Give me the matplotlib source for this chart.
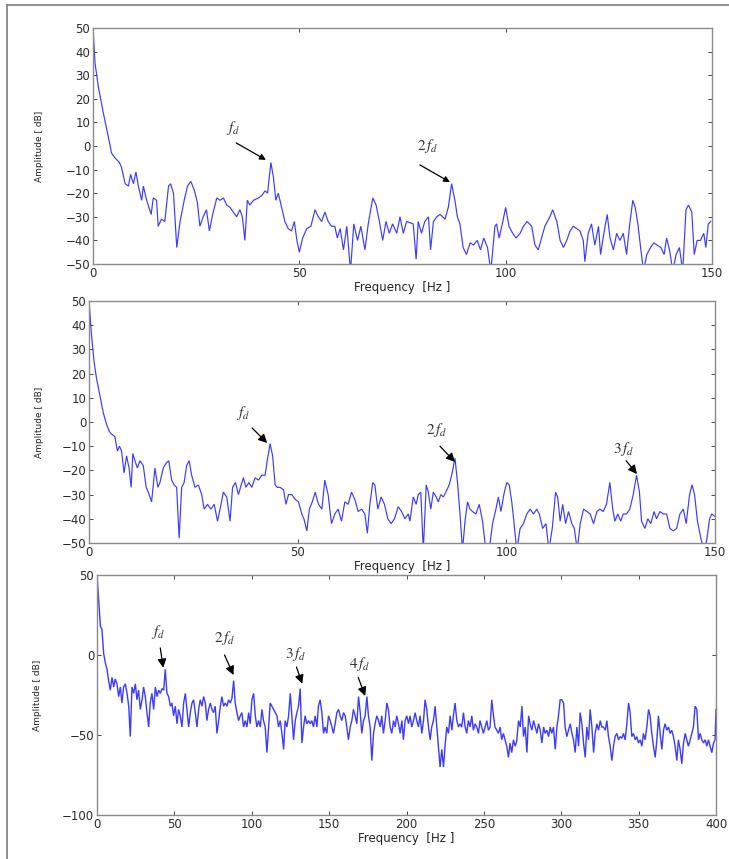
import numpy as np
import matplotlib
matplotlib.use("Agg")
import matplotlib.pyplot as plt
from matplotlib.lines import Line2D

plt.rcParams['font.family'] = ['DejaVu Sans']
plt.rcParams['mathtext.fontset'] = 'stix'

# ---------------- Panel 1 data (0-150 Hz) ----------------
freq1_a = [0, 0.5, 1.3, 2.5, 3.7, 4.5, 5.3, 6.4, 6.9, 7.8,
           8.6, 9.1, 9.8, 10.4, 11.0, 11.8, 12.2, 13.0, 14.1, 14.6,
           15.4, 15.8, 16.6, 17.4, 18.3, 18.8, 19.5, 20.3, 21.1, 22.1,
           22.9, 23.7, 24.6, 25.3, 25.9, 26.7, 27.5, 28.2, 29.0, 30.0,
           30.8, 31.6, 32.4, 33.2, 34.0, 34.8, 35.6, 36.2, 36.8, 37.4,
           38.0, 38.9, 40.1, 40.9, 41.7, 42.3, 43.1, 43.7, 44.3, 44.9,
           45.7, 46.5, 47.3, 48.1, 48.8, 49.4, 50.0, 50.8, 51.8, 52.8,
           53.8, 54.6, 55.4, 56.2, 57.0, 57.8, 58.6, 59.2, 59.9, 60.7,
           61.5, 62.4, 63.2, 64.1, 64.9, 65.9, 66.7, 67.8, 68.6, 69.4,
           70.2, 71.0, 71.8, 72.6, 73.6, 74.4, 75.2, 76.0]
amp1_a = [50, 35, 25, 14, 4, -3, -5, -7, -9, -16,
          -17, -12, -16, -11, -17, -23, -17, -23, -29, -22,
          -23, -34, -31, -32, -17, -16, -20, -43, -32, -23,
          -17, -15, -19, -24, -34, -30, -27, -36, -29, -22,
          -23, -22, -25, -26, -28, -30, -27, -30, -40, -23,
          -25, -23, -22, -21, -19, -20, -7, -13, -23, -20,
          -26, -32, -35, -36, -32, -40, -45, -39, -35, -34,
          -27, -30, -32, -28, -32, -34, -34, -39, -35, -44,
          -34, -53, -33, -40, -34, -44, -33, -22, -25, -32,
          -40, -32, -37, -33, -37, -30, -37, -32]
freq1_b = [77.6, 78.3, 78.8, 79.6, 80.4, 81.3, 81.8, 82.5, 83.3, 84.1,
           85.3, 86.1, 86.9, 87.7, 88.3, 88.9, 89.7, 90.5, 91.4, 92.2,
           93.1, 93.9, 94.7, 95.6, 96.4, 97.4, 97.8, 98.4, 99.2, 100.0,
           100.8, 101.7, 102.5, 103.5, 104.3, 105.2, 106.3, 107.1, 107.9, 108.7,
           109.5, 110.7, 111.4, 112.4, 113.2, 114.0, 114.8, 115.6, 116.4, 117.2,
           118.0, 118.8, 119.2, 120.0, 120.8, 121.6, 122.5, 123.0, 123.8, 124.6,
           125.3, 126.1, 126.9, 127.7, 128.5, 129.3, 130.0, 130.8, 131.4, 132.1,
           132.7, 133.4, 134.2, 135.1, 135.9, 136.7, 137.6, 138.4, 139.0, 139.7,
           140.5, 141.3, 142.1, 142.9, 143.7, 144.3, 145.1, 145.7, 146.4, 147.2,
           148.0, 148.5, 149.1, 149.7]
amp1_b = [-33, -48, -32, -37, -32, -30, -44, -32, -30, -29,
          -31, -26, -16, -23, -30, -33, -43, -46, -41, -42,
          -40, -44, -39, -43, -53, -34, -33, -39, -33, -26,
          -34, -37, -39, -37, -34, -32, -34, -42, -44, -39,
          -34, -30, -27, -32, -40, -43, -40, -36, -34, -35,
          -36, -40, -49, -37, -33, -42, -34, -46, -37, -29,
          -39, -44, -37, -40, -37, -46, -34, -23, -26, -34,
          -43, -53, -46, -43, -41, -42, -43, -46, -39, -44,
          -53, -46, -43, -53, -27, -25, -28, -46, -40, -40,
          -37, -43, -33, -32]

# ---------------- Panel 2 data (0-150 Hz) ----------------
freq2_a = [0, 0.6, 1.2, 1.8, 2.6, 3.4, 4.2, 4.9, 5.4, 6.2,
           6.8, 7.3, 7.8, 8.4, 9.0, 9.6, 10.1, 10.5, 11.0, 11.6,
           12.2, 13.0, 13.7, 14.2, 15.0, 15.8, 16.5, 17.0, 17.8, 18.5,
           19.1, 19.8, 20.4, 21.0, 21.6, 22.2, 22.8, 23.4, 24.0, 24.6,
           25.4, 26.2, 27.0, 27.6, 28.4, 29.2, 30.0, 30.8, 31.4, 32.2,
           33.0, 33.8, 34.4, 35.1, 35.8, 36.3, 37.0, 37.6, 38.3, 39.0,
           39.8, 40.6, 41.4, 42.2, 42.7, 43.4, 44.0, 44.6, 45.1, 45.8,
           46.6, 47.2, 47.8, 48.6, 49.4, 50.2, 51.0, 51.5, 52.2, 52.8,
           53.5, 54.2, 55.0, 55.8, 56.5, 57.3, 58.1, 58.9, 59.7, 60.5,
           61.3, 62.1, 62.9, 63.7, 64.5, 65.3, 66.1, 66.7, 67.3, 68.0,
           68.5, 69.2, 70.0, 70.8, 71.6, 72.4, 73.2, 74.1, 74.9, 75.7,
           76.5]
amp2_a = [50, 36, 25, 18, 11, 4, -1, -4, -5, -6,
          -12, -10, -12, -21, -14, -19, -27, -13, -16, -19,
          -16, -18, -27, -29, -33, -19, -27, -25, -19, -17,
          -16, -24, -26, -27, -48, -27, -25, -18, -16, -22,
          -27, -26, -30, -36, -34, -36, -34, -41, -36, -29,
          -31, -41, -27, -25, -30, -27, -23, -27, -25, -27,
          -23, -24, -22, -22, -16, -9, -14, -26, -27, -27,
          -28, -34, -30, -30, -32, -33, -38, -40, -45, -36,
          -33, -29, -34, -36, -24, -30, -42, -38, -36, -41,
          -33, -34, -29, -32, -37, -36, -38, -46, -34, -25,
          -26, -36, -31, -34, -40, -42, -40, -35, -37, -40,
          -38]
freq2_b = [76.9, 77.7, 78.4, 78.9, 79.5, 80.1, 80.8, 81.3, 81.9, 82.5,
           83.2, 83.7, 84.3, 84.9, 85.5, 86.3, 86.9, 87.7, 88.3, 88.9,
           89.5, 90.1, 90.7, 91.3, 91.9, 92.7, 93.5, 94.3, 95.1, 95.9,
           96.7, 97.5, 98.1, 98.7, 99.4, 100.1, 100.7, 101.3, 101.8, 102.5,
           103.3, 104.1, 104.9, 105.7, 106.5, 107.3, 107.9, 108.7, 109.5, 110.2,
           111.0, 111.8, 112.3, 112.9, 113.5, 114.2, 114.9, 115.7, 116.3, 117.0,
           117.7, 118.5, 119.3, 120.1, 120.9, 121.7, 122.4, 123.2, 124.0, 124.8,
           125.5, 126.0, 126.7, 127.4, 128.0, 128.8, 129.6, 130.4, 131.2, 131.9,
           132.4, 133.2, 133.9, 134.6, 135.4, 136.0, 136.8, 137.6, 138.4, 139.2,
           140.0, 140.8, 141.6, 142.4, 143.1, 143.9, 144.5, 145.1, 145.8, 146.6,
           147.4, 148.0, 148.7, 149.2, 150.0]
amp2_b = [-41, -31, -34, -30, -29, -53, -26, -29, -36, -29,
          -31, -33, -30, -31, -29, -26, -22, -15, -25, -38,
          -53, -41, -33, -36, -37, -38, -34, -41, -53, -53,
          -42, -36, -31, -37, -30, -25, -26, -33, -41, -53,
          -44, -42, -38, -36, -38, -36, -38, -44, -42, -53,
          -44, -29, -31, -41, -34, -42, -37, -42, -44, -53,
          -42, -36, -37, -38, -42, -37, -36, -37, -34, -25,
          -36, -41, -38, -41, -38, -38, -36, -30, -22, -29,
          -41, -44, -40, -42, -37, -40, -37, -38, -38, -44,
          -45, -44, -38, -36, -42, -30, -26, -30, -41, -48,
          -53, -49, -40, -38, -39]

# ---------------- Panel 3 data (0-400 Hz) ----------------
freq3_a = [0, 1.1, 2.2, 3.2, 4.3, 5.4, 6.5, 7.5, 8.6, 9.7,
           10.8, 11.8, 12.9, 14.0, 15.1, 16.1, 17.2, 18.3, 19.4, 20.5,
           21.5, 22.6, 23.7, 24.8, 25.8, 26.9, 28.0, 29.1, 30.1, 31.2,
           32.3, 33.4, 34.4, 35.5, 36.6, 37.7, 38.8, 39.8, 40.9, 42.0,
           43.1, 44.1, 45.2, 46.3, 47.4, 48.4, 49.5, 50.6, 51.7, 52.7,
           53.8, 54.9, 56.0, 57.1, 58.1, 59.2, 60.3, 61.4, 62.4, 63.5,
           64.6, 65.7, 66.7, 67.8, 68.9, 70.0, 71.0, 72.1, 73.2, 74.3,
           75.3, 76.4, 77.5, 78.6, 79.7, 80.7, 81.8, 82.9, 84.0, 85.0,
           86.1, 87.2, 88.3, 89.3, 90.4, 91.5, 92.6, 93.6, 94.7, 95.8,
           96.9, 98.0, 99.0, 100.1, 101.2, 102.3, 103.3, 104.4, 105.5, 106.6,
           107.6, 108.7, 109.8, 110.9, 111.9, 113.0, 114.1, 115.2, 116.3, 117.3,
           118.4, 119.5, 120.6, 121.6, 122.7, 123.8, 124.9, 125.9, 127.0, 128.1,
           129.2, 130.2, 131.3, 132.4, 133.5, 134.5, 135.6, 136.7]
amp3_a = [50, 34, 18, 16, 1, -5, -9, -16, -22, -14,
          -20, -15, -18, -26, -20, -30, -20, -18, -24, -32,
          -51, -20, -24, -18, -28, -22, -34, -28, -20, -26,
          -36, -45, -30, -24, -34, -20, -26, -22, -24, -21,
          -22, -9, -24, -26, -32, -30, -38, -32, -43, -34,
          -38, -45, -30, -24, -34, -45, -36, -30, -28, -36,
          -45, -34, -28, -32, -26, -30, -41, -34, -30, -34,
          -36, -32, -49, -41, -32, -26, -32, -30, -32, -28,
          -30, -27, -16, -30, -36, -41, -38, -36, -45, -41,
          -45, -36, -43, -28, -24, -38, -45, -41, -45, -34,
          -41, -45, -61, -45, -30, -32, -34, -36, -38, -45,
          -41, -49, -59, -41, -45, -38, -24, -38, -53, -41,
          -36, -32, -21, -55, -45, -38, -43, -41]
freq3_b = [137.8, 138.8, 139.9, 141.0, 142.1, 143.1, 144.2, 145.3, 146.4, 147.4,
           148.5, 149.6, 150.7, 151.8, 152.8, 153.9, 155.0, 156.1, 157.1, 158.2,
           159.3, 160.4, 161.4, 162.5, 163.6, 164.7, 165.7, 166.8, 167.9, 169.0,
           170.1, 171.1, 172.2, 173.3, 174.4, 175.4, 176.5, 177.6, 178.7, 179.7,
           180.8, 181.9, 183.0, 184.0, 185.1, 186.2, 187.3, 188.3, 189.4, 190.5,
           191.6, 192.7, 193.7, 194.8, 195.9, 197.0, 198.0, 199.1, 200.2, 201.3,
           202.3, 203.4, 204.5, 205.6, 206.6, 207.7, 208.8, 209.9, 211.0, 212.0,
           213.1, 214.2, 215.3, 216.3, 217.4, 218.5, 219.6, 220.6, 221.7, 222.8,
           223.9, 224.9, 226.0, 227.1, 228.2, 229.3, 230.3, 231.4, 232.5, 233.6,
           234.6, 235.7, 236.8, 237.9, 238.9, 240.0, 241.1, 242.2, 243.2, 244.3,
           245.4, 246.5, 247.5, 248.6, 249.7, 250.8, 251.9, 252.9, 254.0, 255.1,
           256.2, 257.2, 258.3, 259.4, 260.5, 261.5, 262.6, 263.7, 264.8, 265.9,
           266.9, 268.0, 269.1, 270.2, 271.2]
amp3_b = [-43, -41, -45, -38, -45, -32, -28, -36, -49, -45,
          -49, -38, -41, -45, -49, -43, -36, -34, -38, -41,
          -36, -38, -45, -53, -45, -41, -34, -38, -43, -26,
          -36, -49, -41, -38, -26, -38, -45, -66, -49, -43,
          -38, -41, -45, -38, -49, -41, -30, -34, -45, -49,
          -41, -45, -38, -43, -49, -41, -53, -41, -38, -43,
          -38, -45, -41, -36, -41, -45, -38, -49, -41, -28,
          -34, -45, -53, -45, -41, -32, -45, -57, -70, -59,
          -70, -57, -45, -49, -38, -47, -38, -30, -41, -45,
          -43, -45, -36, -45, -49, -41, -45, -38, -47, -43,
          -45, -49, -41, -45, -49, -45, -41, -47, -45, -28,
          -38, -45, -47, -49, -45, -53, -49, -53, -57, -64,
          -55, -61, -53, -57, -54]
freq3_c = [272.4, 273.5, 274.6, 275.6, 276.7, 277.8, 278.9, 279.9, 281.0, 282.1,
           283.2, 284.3, 285.3, 286.4, 287.5, 288.6, 289.6, 290.7, 291.8, 292.9,
           293.9, 295.0, 296.1, 297.2, 298.2, 299.3, 300.4, 301.5, 302.5, 303.6,
           304.7, 305.8, 306.9, 307.9, 309.0, 310.1, 311.2, 312.2, 313.3, 314.4,
           315.5, 316.5, 317.6, 318.7, 319.8, 320.9, 321.9, 323.0, 324.1, 325.2,
           326.2, 327.3, 328.4, 329.5, 330.5, 331.6, 332.7, 333.8, 334.8, 335.9,
           337.0, 338.1, 339.2, 340.2, 341.3, 342.4, 343.5, 344.5, 345.6, 346.7,
           347.8, 348.8, 349.9, 351.0, 352.1, 353.1, 354.2, 355.3, 356.4, 357.4,
           358.5, 359.6, 360.7, 361.8, 362.8, 363.9, 365.0, 366.1, 367.1, 368.2,
           369.3, 370.4, 371.4, 372.5, 373.6, 374.7, 375.7, 376.8, 377.9, 379.0,
           380.1, 381.1, 382.2, 383.3, 384.4, 385.4, 386.5, 387.6, 388.7, 389.8,
           390.8, 391.9, 393.0, 394.1, 395.1, 396.2, 397.3, 398.4, 399.4, 400.0]
amp3_c = [-41, -45, -32, -51, -45, -61, -38, -43, -47, -41,
          -45, -49, -43, -47, -55, -45, -49, -47, -51, -45,
          -49, -45, -59, -45, -38, -28, -28, -30, -45, -51,
          -47, -43, -49, -53, -61, -45, -57, -36, -43, -55,
          -64, -45, -53, -34, -45, -61, -49, -43, -47, -41,
          -45, -45, -47, -41, -51, -57, -66, -57, -51, -49,
          -53, -51, -52, -49, -53, -43, -30, -36, -51, -49,
          -53, -51, -55, -53, -57, -49, -53, -45, -34, -38,
          -49, -57, -64, -53, -38, -49, -59, -47, -43, -47,
          -45, -49, -47, -51, -57, -66, -53, -59, -68, -55,
          -49, -53, -57, -53, -49, -45, -32, -34, -53, -49,
          -53, -55, -53, -57, -53, -57, -61, -55, -53, -34]

# tick values
xticks_150 = [0, 50, 100, 150]
yticks_50 = [-50, -40, -30, -20, -10, 0, 10, 20, 30, 40, 50]
xticks_400 = [0, 50, 100, 150, 200, 250, 300, 350, 400]
yticks_100 = [-100, -50, 0, 50]

# annotations: (label, text xy, arrow tail, arrow head)
ann1 = [(r"$f_d$", (33.9, 7.6), (34.7, 1.3), (41.9, -5.9)),
        (r"$2\,f_d$", (81.2, 0.0), (79.2, -8.0), (86.5, -15.3))]
ann2 = [(r"$f_d$", (36.9, 3.7), (39.1, -2.5), (42.7, -8.7)),
        (r"$2\,f_d$", (83.2, -3.3), (84.1, -10.0), (87.7, -16.5)),
        (r"$3\,f_d$", (128.0, -11.0), (128.7, -16.0), (131.3, -21.5))]
ann3 = [(r"$f_d$", (39.6, 14.4), (40.9, 4.4), (42.8, -8.0)),
        (r"$2\,f_d$", (82.4, 10.6), (82.4, 0.0), (88.2, -12.5)),
        (r"$3\,f_d$", (128.3, 0.6), (128.9, -7.5), (132.6, -18.0)),
        (r"$4\,f_d$", (169.5, -5.6), (168.8, -14.0), (173.3, -25.6))]

W, H = 729, 859
fig = plt.figure(figsize=(W / 100, H / 100), dpi=100)
fig.patch.set_facecolor('white')

line_color = '#3b3bff'


def rect(l, r, t, b):
    return [l / W, 1 - b / H, (r - l) / W, (b - t) / H]


def make_axes(px, fx, fy, xticks, yticks, xlim, ylim, anns, head, lw, ylab_x):
    l, r, t, b = px
    ax = fig.add_axes(rect(l, r, t, b))
    ax.plot(fx, fy, color=line_color, lw=lw, solid_joinstyle='miter')
    ax.set_xlim(*xlim)
    ax.set_ylim(*ylim)
    ax.set_xticks(xticks)
    ax.set_yticks(yticks)
    ax.tick_params(direction='in', top=True, right=True, length=3,
                   width=0.6, labelsize=8.5, pad=2, colors='#2a2a2a')
    for s in ax.spines.values():
        s.set_color('#8a8a8a')
        s.set_linewidth(1.0)
    ax.set_xlabel('Frequency  [Hz ]', fontsize=8.5, labelpad=1, color='#222222')
    ax.set_ylabel('Amplitude [ dB]', fontsize=6.5, color='#222222')
    ax.yaxis.set_label_coords((ylab_x - l) / (r - l), 0.5)
    for lab, txy, tail, hd in anns:
        ax.text(txy[0], txy[1], lab, fontsize=11, ha='center', va='center',
                color='#333333')
        ax.annotate('', xy=hd, xytext=tail,
                    arrowprops=dict(arrowstyle='-|>', color='black', lw=0.9,
                                    mutation_scale=head, shrinkA=0, shrinkB=0))
    return ax


ax1 = make_axes((93, 712, 28, 264),
                freq1_a + freq1_b, amp1_a + amp1_b,
                xticks_150, yticks_50, (0, 150), (-50, 50), ann1, 9, 0.85, 44)
ax2 = make_axes((89, 715, 301, 543),
                freq2_a + freq2_b, amp2_a + amp2_b,
                xticks_150, yticks_50, (0, 150), (-50, 50), ann2, 13, 0.85, 44)
ax3 = make_axes((97, 716, 575, 815),
                freq3_a + freq3_b + freq3_c, amp3_a + amp3_b + amp3_c,
                xticks_400, yticks_100, (0, 400), (-100, 50), ann3, 13, 1.0, 42)

# outer frame (left and top edges of the scanned page)
fig.add_artist(Line2D([7 / W, 7 / W], [0, 1 - 5 / H], transform=fig.transFigure,
                      color='#7a7a7a', lw=1.2))
fig.add_artist(Line2D([7 / W, 1], [1 - 5 / H, 1 - 5 / H], transform=fig.transFigure,
                      color='#7a7a7a', lw=1.2))

fig.savefig('out.png', dpi=100, facecolor='white')
